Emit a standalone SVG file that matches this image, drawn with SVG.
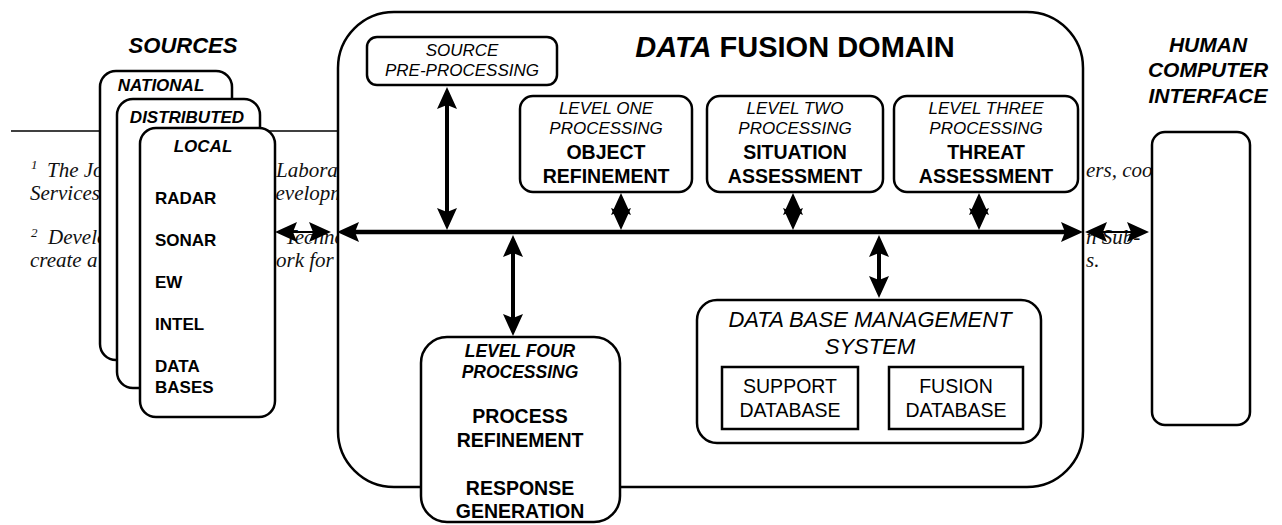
<svg xmlns="http://www.w3.org/2000/svg" width="1282" height="525" viewBox="0 0 1282 525">
<style>
.box{fill:#fff;stroke:#000;stroke-width:2.5}
.sq{fill:#fff;stroke:#000;stroke-width:2.5}
.t{font-family:"Liberation Sans",Arial,sans-serif;fill:#000;text-anchor:middle}
.it{font-style:italic;font-size:17px}
.bd{font-weight:bold;font-size:19.5px}
.bi{font-weight:bold;font-style:italic}
.title{font-weight:bold;font-size:29px}
.src{font-family:"Liberation Sans",Arial,sans-serif;font-weight:bold;font-size:17px;fill:#000}
.fn{font-family:"Liberation Serif","Times New Roman",serif;font-style:italic;font-size:21px;fill:#111}
.sup{font-family:"Liberation Serif","Times New Roman",serif;font-style:italic;font-size:13px;fill:#111}
.bus{stroke:#000;stroke-width:4.5;fill:none;marker-start:url(#ah);marker-end:url(#ah)}
.thin{stroke:#000;stroke-width:2;fill:none;marker-start:url(#ah);marker-end:url(#ah)}
.va{stroke:#000;stroke-width:4;fill:none;marker-start:url(#ah);marker-end:url(#ah)}
</style>
<defs>
<marker id="ah" markerUnits="userSpaceOnUse" viewBox="0 -11 24 22" markerWidth="24" markerHeight="22" refX="12" refY="0" orient="auto-start-reverse">
<path d="M22,0 L0,-10 L4,0 L0,10 Z" fill="#000"/>
</marker>
</defs>
<rect width="1282" height="525" fill="#fff"/>

<g id="footnotes">
<line x1="11" y1="131" x2="338" y2="131" stroke="#000" stroke-width="1.5"/>
<text class="sup" x="31" y="169">1</text>
<text class="fn" x="47" y="177">The Joint</text>
<text class="fn" x="276" y="177">Laboratories</text>
<text class="fn" x="1086" y="177">ers, coo</text>
<text class="fn" x="30" y="200">Services</text>
<text class="fn" x="265" y="200">development</text>
<text class="sup" x="31" y="237">2</text>
<text class="fn" x="48" y="244">Developed</text>
<text class="fn" x="285" y="244">Technology</text>
<text class="fn" x="1086" y="244">n Sub-</text>
<text class="fn" x="30" y="267">create a</text>
<text class="fn" x="262" y="267">work for</text>
<text class="fn" x="1086" y="267">s.</text>
</g>

<text class="t bi" x="183" y="53" font-size="22">SOURCES</text>

<g id="national">
<rect class="box" x="100" y="71" width="132" height="289" rx="16"/>
<text class="t bi" x="161" y="91" font-size="17">NATIONAL</text>
</g>
<g id="distributed">
<rect class="box" x="117" y="99" width="143" height="289" rx="16"/>
<text class="t bi" x="187" y="123" font-size="17">DISTRIBUTED</text>
</g>
<g id="local">
<rect class="box" x="140" y="128" width="135" height="289" rx="16"/>
<text class="t bi" x="203" y="152" font-size="17">LOCAL</text>
<text class="src" x="155" y="204">RADAR</text>
<text class="src" x="155" y="246">SONAR</text>
<text class="src" x="155" y="288">EW</text>
<text class="src" x="155" y="330">INTEL</text>
<text class="src" x="155" y="372">DATA</text>
<text class="src" x="155" y="393">BASES</text>
</g>

<g id="domain">
<rect class="box" x="338" y="12" width="745" height="475" rx="56"/>
<text class="t title" x="795" y="57"><tspan font-style="italic">DATA</tspan> FUSION DOMAIN</text>
</g>

<g id="source-preprocessing">
<rect class="box" x="367" y="37" width="190" height="48" rx="10"/>
<text class="t it" x="462" y="56">SOURCE</text>
<text class="t it" x="462" y="76">PRE-PROCESSING</text>
</g>

<g id="level-one">
<rect class="box" x="520" y="96" width="172" height="96" rx="13"/>
<text class="t it" x="606" y="114">LEVEL ONE</text>
<text class="t it" x="606" y="134">PROCESSING</text>
<text class="t bd" x="606" y="159">OBJECT</text>
<text class="t bd" x="606" y="183">REFINEMENT</text>
</g>

<g id="level-two">
<rect class="box" x="707" y="96" width="176" height="96" rx="13"/>
<text class="t it" x="795" y="114">LEVEL TWO</text>
<text class="t it" x="795" y="134">PROCESSING</text>
<text class="t bd" x="795" y="159">SITUATION</text>
<text class="t bd" x="795" y="183">ASSESSMENT</text>
</g>

<g id="level-three">
<rect class="box" x="894" y="96" width="184" height="96" rx="13"/>
<text class="t it" x="986" y="114">LEVEL THREE</text>
<text class="t it" x="986" y="134">PROCESSING</text>
<text class="t bd" x="986" y="159">THREAT</text>
<text class="t bd" x="986" y="183">ASSESSMENT</text>
</g>

<g id="dbms">
<rect class="box" x="697" y="300" width="344" height="143" rx="20"/>
<text class="t" x="870" y="327" font-size="22" font-style="italic">DATA BASE MANAGEMENT</text>
<text class="t" x="870" y="354" font-size="22" font-style="italic">SYSTEM</text>
</g>
<g id="support-database">
<rect class="sq" x="722" y="367" width="136" height="62"/>
<text class="t" x="790" y="393" font-size="19.5">SUPPORT</text>
<text class="t" x="790" y="417" font-size="19.5">DATABASE</text>
</g>
<g id="fusion-database">
<rect class="sq" x="889" y="367" width="134" height="62"/>
<text class="t" x="956" y="393" font-size="19.5">FUSION</text>
<text class="t" x="956" y="417" font-size="19.5">DATABASE</text>
</g>

<g id="level-four">
<rect class="box" x="421" y="337" width="199" height="185" rx="26"/>
<text class="t bi" x="520" y="357" font-size="17.5">LEVEL FOUR</text>
<text class="t bi" x="520" y="378" font-size="17.5">PROCESSING</text>
<text class="t bd" x="520" y="423">PROCESS</text>
<text class="t bd" x="520" y="447">REFINEMENT</text>
<text class="t bd" x="520" y="495">RESPONSE</text>
<text class="t bd" x="520" y="518">GENERATION</text>
</g>

<g id="hci">
<text class="t bi" x="1208" y="52" font-size="21">HUMAN</text>
<text class="t bi" x="1208" y="77" font-size="21">COMPUTER</text>
<text class="t bi" x="1208" y="103" font-size="21">INTERFACE</text>
<rect class="box" x="1152" y="132" width="98" height="293" rx="13"/>
</g>

<g id="connectors">
<line class="bus" x1="347" y1="232" x2="1073" y2="232"/>
<line class="thin" x1="285" y1="232" x2="321" y2="232"/>
<line class="thin" x1="1095" y1="232" x2="1139" y2="232"/>
<line class="va" x1="447" y1="97" x2="447" y2="220"/>
<line class="va" x1="621" y1="203" x2="621" y2="220"/>
<line class="va" x1="793" y1="203" x2="793" y2="220"/>
<line class="va" x1="979" y1="203" x2="979" y2="220"/>
<line class="va" x1="513" y1="245" x2="513" y2="326"/>
<line class="va" x1="879" y1="245" x2="879" y2="288"/>
</g>
</svg>
